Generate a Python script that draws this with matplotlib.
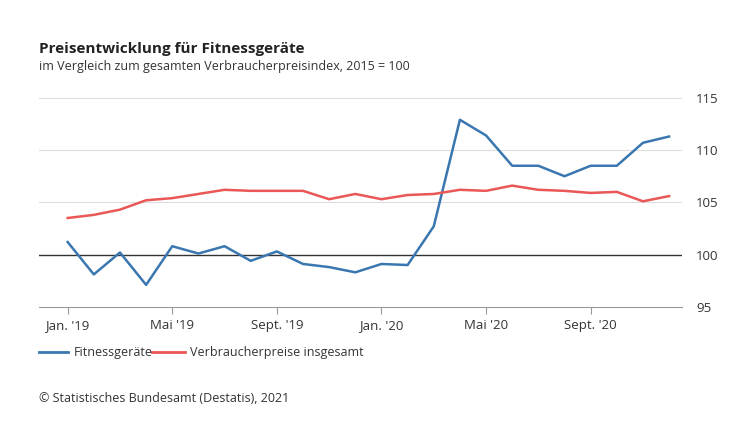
import matplotlib
matplotlib.use("Agg")
import matplotlib.pyplot as plt

months = list(range(24))
fitness = [101.2, 98.1, 100.2, 97.1, 100.8, 100.1, 100.8, 99.4, 100.3, 99.1, 98.8, 98.3,
           99.1, 99.0, 102.7, 112.9, 111.4, 108.5, 108.5, 107.5, 108.5, 108.5, 110.7, 111.3]
cpi = [103.5, 103.8, 104.3, 105.2, 105.4, 105.8, 106.2, 106.1, 106.1, 106.1, 105.3, 105.8,
       105.3, 105.7, 105.8, 106.2, 106.1, 106.6, 106.2, 106.1, 105.9, 106.0, 105.1, 105.6]
xtick_pos = [0, 4, 8, 12, 16, 20]
xtick_labels = ["Jan. '19", "Mai '19", "Sept. '19", "Jan. '20", "Mai '20", "Sept. '20"]
yticks = [95, 100, 105, 110, 115]

plt.rcParams['font.family'] = ['Open Sans', 'DejaVu Sans']
fig = plt.figure(figsize=(7.48, 4.21), dpi=100)
ax = fig.add_axes([0.052, 0.27, 0.86, 0.505])
blue = '#3a77b0'; red = '#e95757'
for y in [105, 110, 115]:
    ax.axhline(y, color='#dddddd', lw=0.8, zorder=0)
ax.axhline(100, color='#333333', lw=1, zorder=1)
ax.axhline(95, color='#999999', lw=0.8, zorder=0, clip_on=False)
ax.plot(months, fitness, color=blue, lw=1.8, zorder=3)
ax.plot(months, cpi, color=red, lw=1.8, zorder=3)
ax.set_xlim(-1.1, 23.5)
ax.set_ylim(94.95, 115.3)
ax.set_yticks(yticks)
ax.yaxis.tick_right()
ax.set_xticks(xtick_pos)
ax.set_xticklabels(xtick_labels)
ax.tick_params(axis='y', length=0, labelsize=9.5, colors='#333333', pad=10)
ax.tick_params(axis='x', length=5, color='#999999', labelsize=9.5, colors='#333333')
for s in ax.spines.values():
    s.set_visible(False)

fig.text(0.052, 0.875, "Preisentwicklung für Fitnessgeräte", fontsize=11, fontweight='bold', color='#222222')
fig.text(0.052, 0.833, "im Vergleich zum gesamten Verbraucherpreisindex, 2015 = 100", fontsize=9, color='#333333')
fig.lines.append(plt.Line2D([0.052, 0.091], [0.163, 0.163], transform=fig.transFigure, color=blue, lw=2))
fig.text(0.098, 0.163, "Fitnessgeräte", fontsize=9, va='center', color='#333333')
fig.lines.append(plt.Line2D([0.203, 0.247], [0.163, 0.163], transform=fig.transFigure, color=red, lw=2))
fig.text(0.254, 0.163, "Verbraucherpreise insgesamt", fontsize=9, va='center', color='#333333')
fig.text(0.052, 0.045, "© Statistisches Bundesamt (Destatis), 2021", fontsize=9, color='#333333')
fig.savefig("out.png", dpi=100, facecolor='white')
